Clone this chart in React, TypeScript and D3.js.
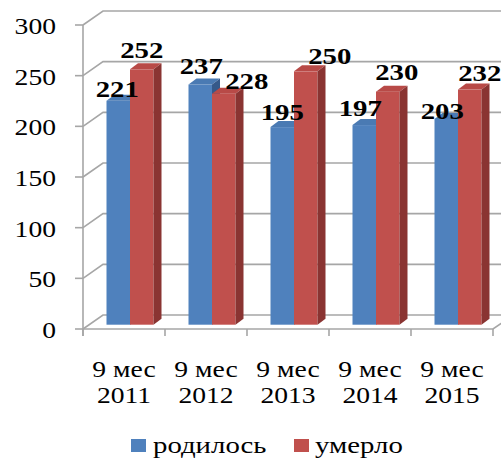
import React from 'react';
import * as d3 from 'd3';

const periods = ['2011', '2012', '2013', '2014', '2015'];
const periodPrefix = '9 мес';
const seriesNames = ['родилось', 'умерло'];
const born = [221, 237, 195, 197, 203];
const died = [252, 228, 250, 230, 232];
const yTicks = [0, 50, 100, 150, 200, 250, 300];

const colors = ['#4F81BD', '#C0504D'];
const topColors = ['#4A7AB3', '#B84A47'];
const sideColors = ['#35598A', '#8A3432'];

// Excel moved some labels sideways/up to avoid overlaps
const bornNudge = [[-1, 4], [1, 11], [0, 7], [-4, 9], [-4, 0]];
const diedNudge = [[0, 11], [23, 5], [24, 7], [9, 12], [10, 9]];

const W = 501;
const H = 459;
const FONT = 'Liberation Serif';
const STRETCH = 1.2;

const App: React.FC = () => {
  const x = d3.scaleBand<string>().domain(periods).range([83, 493]);
  const y = d3.scaleLinear().domain([0, 300]).range([329, 25]);
  const inner = 47;
  const xs = d3.scaleBand<string>().domain(seriesNames).range([0, inner]);
  const pad = (x.bandwidth() - inner) / 2;

  const wall = { dx: 20, dy: -14 }; // depth of the floor/back wall
  const shift = { dx: 6, dy: -4.3 }; // where the bars stand in depth
  const deep = { dx: 8, dy: -6 }; // depth of a bar

  const grid = '#A6A6A6';
  const series = [born, died];
  const nudges = [bornNudge, diedNudge];

  const stretched = (tx: number, ty: number) => `translate(${tx},${ty}) scale(${STRETCH},1)`;
  const txt = (size: number, bold = false): React.CSSProperties => ({
    fontFamily: FONT,
    fontSize: size,
    fontWeight: bold ? 'bold' : 'normal',
  });

  return (
    <svg width={W} height={H} style={{ position: 'absolute', left: 0, top: 0, background: '#fff' }}>
      {/* back wall + side wall gridlines */}
      {yTicks.map(t => (
        <polyline
          key={'g' + t}
          points={`83,${y(t)} ${83 + wall.dx},${y(t) + wall.dy} 540,${y(t) + wall.dy}`}
          fill="none"
          stroke={grid}
          strokeWidth={1.6}
        />
      ))}
      {/* floor front edge */}
      <polyline
        points={`83,${y(0)} 493,${y(0)} ${493 + wall.dx},${y(0) + wall.dy}`}
        fill="none"
        stroke={grid}
        strokeWidth={1.6}
      />
      {/* y axis */}
      <line x1={83} x2={83} y1={y(300)} y2={y(0) + 7} stroke={grid} strokeWidth={1.6} />
      {yTicks.map(t => (
        <line key={'yt' + t} x1={75} x2={83} y1={y(t)} y2={y(t)} stroke={grid} strokeWidth={1.6} />
      ))}
      {yTicks.map(t => (
        <text key={'yl' + t} transform={stretched(56, y(t) + 9)} textAnchor="end" style={txt(23)} fill="#000">
          {t}
        </text>
      ))}
      {/* x ticks */}
      {[...periods.map(p => x(p)!), 493].map((v, i) => (
        <line key={'xt' + i} x1={v} x2={v} y1={y(0)} y2={y(0) + 7} stroke={grid} strokeWidth={1.6} />
      ))}
      {periods.map(p => {
        const cx = x(p)! + x.bandwidth() / 2;
        return (
          <g key={'xl' + p} fill="#000">
            <text transform={stretched(cx, 377)} textAnchor="middle" style={txt(23)}>{periodPrefix}</text>
            <text transform={stretched(cx, 403)} textAnchor="middle" style={txt(23)}>{p}</text>
          </g>
        );
      })}
      {/* bars */}
      {periods.map((p, i) => (
        <g key={'b' + p}>
          {series.map((vals, s) => {
            const w = xs.bandwidth();
            const x0 = x(p)! + pad + xs(seriesNames[s])! + shift.dx;
            const y0 = y(vals[i]) + shift.dy;
            const y1 = y(0) + shift.dy;
            return (
              <g key={s}>
                <rect x={x0} y={y0} width={w} height={y1 - y0} fill={colors[s]} />
                <polygon
                  points={`${x0},${y0} ${x0 + w},${y0} ${x0 + w + deep.dx},${y0 + deep.dy} ${x0 + deep.dx},${y0 + deep.dy}`}
                  fill={topColors[s]}
                />
                <polygon
                  points={`${x0 + w},${y0} ${x0 + w + deep.dx},${y0 + deep.dy} ${x0 + w + deep.dx},${y1 + deep.dy} ${x0 + w},${y1}`}
                  fill={sideColors[s]}
                />
              </g>
            );
          })}
        </g>
      ))}
      {/* data labels */}
      {periods.map((p, i) => (
        <g key={'dl' + p}>
          {series.map((vals, s) => {
            const cx = x(p)! + pad + xs(seriesNames[s])! + shift.dx + xs.bandwidth() / 2 + nudges[s][i][0];
            const by = y(vals[i]) + shift.dy - nudges[s][i][1];
            return (
              <text key={s} transform={stretched(cx, by)} textAnchor="middle" style={txt(24, true)} fill="#000">
                {vals[i]}
              </text>
            );
          })}
        </g>
      ))}
      {/* legend */}
      <rect x={131} y={439} width={15} height={13} fill={colors[0]} />
      <text transform={stretched(153, 453)} style={txt(24)} fill="#000">
        {seriesNames[0]}
      </text>
      <rect x={294} y={439} width={15} height={13} fill={colors[1]} />
      <text transform={stretched(315, 453)} style={txt(24)} fill="#000">
        {seriesNames[1]}
      </text>
    </svg>
  );
};

export default App;
